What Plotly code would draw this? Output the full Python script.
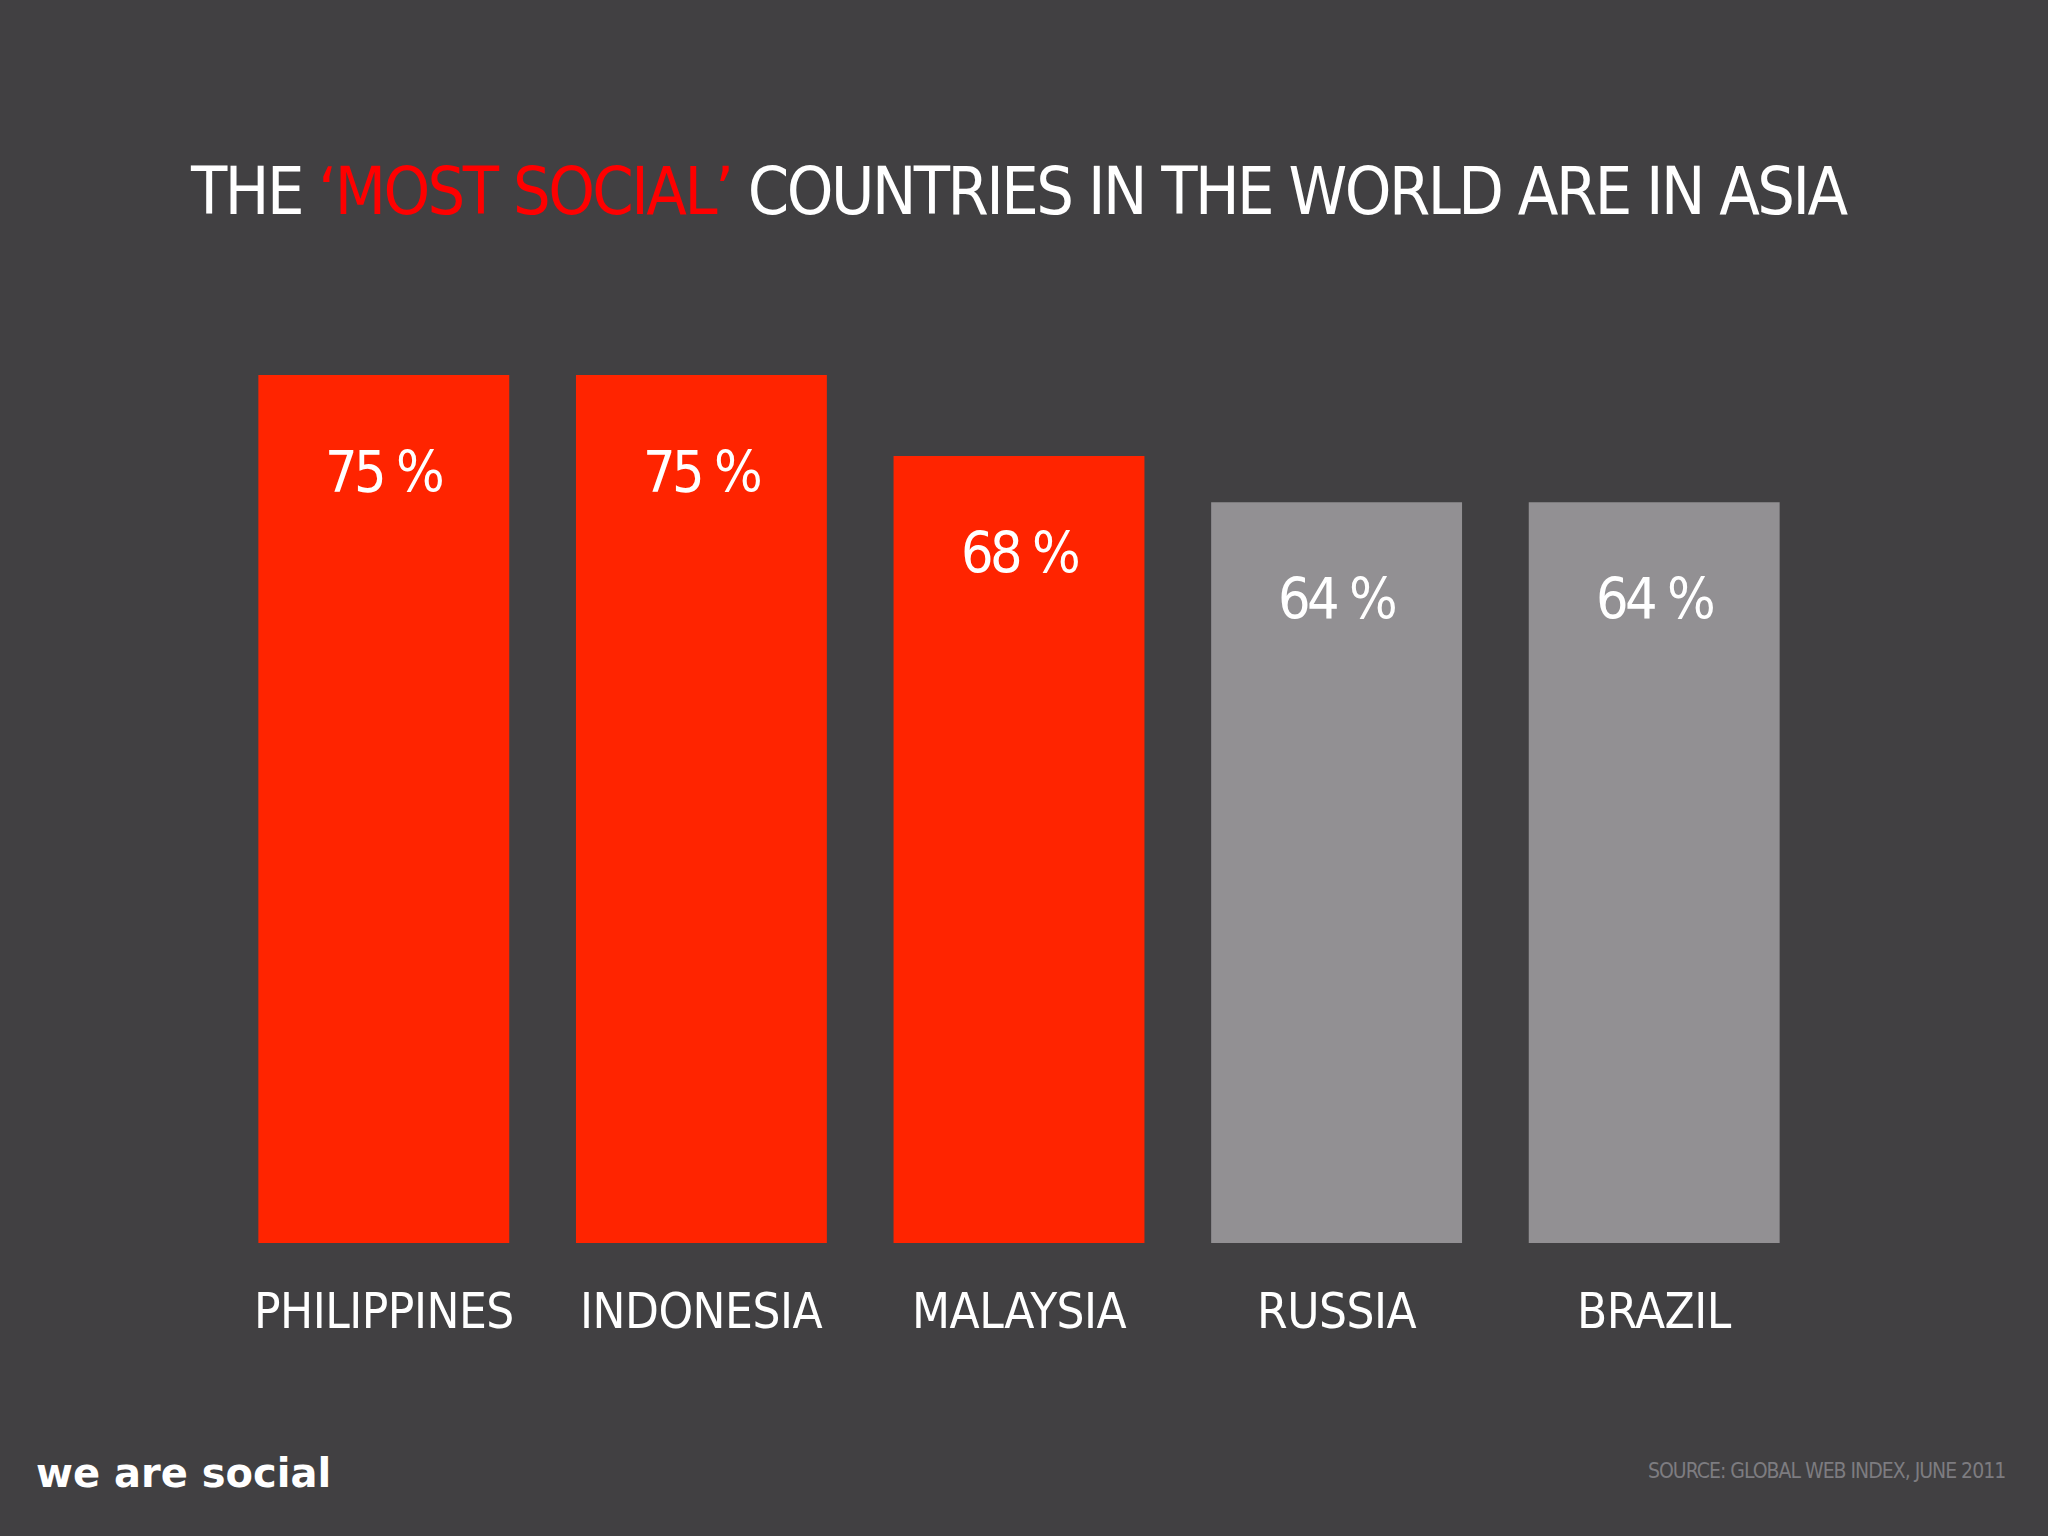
import plotly.graph_objects as go

# ---- data ----
countries = ["PHILIPPINES", "INDONESIA", "MALAYSIA", "RUSSIA", "BRAZIL"]
values = [75, 75, 68, 64, 64]
value_labels = ["75 %", "75 %", "68 %", "64 %", "64 %"]
is_asia = [True, True, True, False, False]

# ---- style ----
W, H = 2048, 1536
BG = "#414042"
RED = "#ff2400"
GREY = "#929093"
COND = "DejaVu Sans Condensed, Liberation Sans Narrow, sans-serif"

ML, MR, MT, MB = 225, 235, 375, 293
plot_w = W - ML - MR
plot_h = H - MT - MB

def px_x(p):
    return (p - ML) / plot_w

def px_y(p):
    return (H - MB - p) / plot_h

def tight(txt, ls):
    return f"<span style='letter-spacing:{ls}px'>{txt}</span>"

colors = [RED if a else GREY for a in is_asia]

fig = go.Figure(go.Bar(
    x=countries, y=values,
    marker=dict(color=colors, line=dict(width=0)),
    hoverinfo="skip",
))

annotations = []
for c, v, t in zip(countries, values, value_labels):
    annotations.append(dict(
        x=c, y=v, xref="x", yref="y", text=tight(t, -3.5), showarrow=False,
        yanchor="top", yshift=-62,
        font=dict(family=COND, size=57, color="white"),
    ))
    annotations.append(dict(
        x=c, y=0, xref="x", yref="paper", text=tight(c, -0.5), showarrow=False,
        yanchor="middle", yshift=-68,
        font=dict(family=COND, size=49, color="white"),
    ))

annotations.append(dict(
    x=0.5, xref="paper", y=px_y(191), yref="paper",
    xanchor="center", yanchor="middle", showarrow=False,
    text=tight("THE <span style='color:#ff0000'>\u2018MOST SOCIAL\u2019</span> COUNTRIES IN THE WORLD ARE IN ASIA", -2.5),
    font=dict(family=COND, size=66, color="white"),
))
annotations.append(dict(
    x=px_x(34), xref="paper", y=px_y(1473), yref="paper",
    xanchor="left", yanchor="middle", showarrow=False,
    text="<b>we are social</b>",
    font=dict(family="DejaVu Sans, Verdana, sans-serif", size=40, color="white"),
))
annotations.append(dict(
    x=px_x(2007), xref="paper", y=px_y(1471), yref="paper",
    xanchor="right", yanchor="middle", showarrow=False,
    text=tight("SOURCE: GLOBAL WEB INDEX, JUNE 2011", -1),
    font=dict(family=COND, size=21, color="#7d7c80"),
))

fig.update_layout(
    width=W, height=H,
    margin=dict(l=ML, r=MR, t=MT, b=MB, pad=0),
    paper_bgcolor=BG, plot_bgcolor=BG,
    bargap=0.21,
    showlegend=False,
    xaxis=dict(showticklabels=False, showgrid=False, zeroline=False, showline=False, ticks=""),
    yaxis=dict(range=[0, 75], showticklabels=False, showgrid=False, zeroline=False, showline=False, ticks=""),
    annotations=annotations,
)

fig.write_html(
    "out.html",
    config={"displayModeBar": False},
    post_script="document.body.style.margin='0';document.body.style.padding='0';"
                "document.body.style.background='#414042';document.body.style.overflow='hidden';",
)
